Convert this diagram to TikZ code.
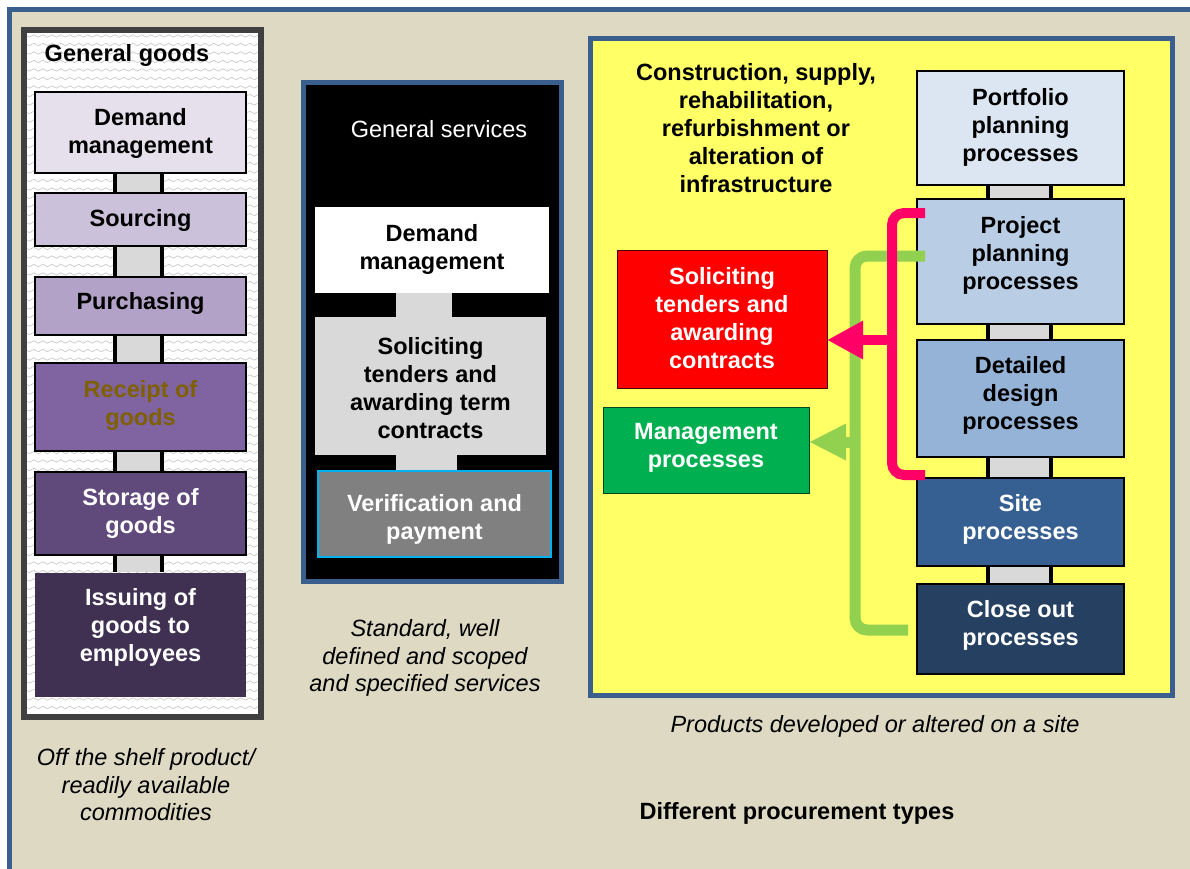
\documentclass[tikz,border=0pt]{standalone}
\usepackage{fontspec}
\setmainfont{Liberation Sans}
\usetikzlibrary{arrows.meta,decorations.pathmorphing,calc}
\definecolor{tanbg}{HTML}{DDD9C3}
\definecolor{frameblue}{HTML}{3A5F8F}
\definecolor{colgray}{HTML}{404040}
\definecolor{wavegray}{HTML}{C4C4C4}
\definecolor{bargray}{HTML}{D9D9D9}
\definecolor{pA}{HTML}{E6E0EC}
\definecolor{pB}{HTML}{CCC1DA}
\definecolor{pC}{HTML}{B3A2C7}
\definecolor{pD}{HTML}{8064A2}
\definecolor{pE}{HTML}{604A7B}
\definecolor{pF}{HTML}{403152}
\definecolor{olivetxt}{HTML}{7F6000}
\definecolor{bA}{HTML}{DCE6F2}
\definecolor{bB}{HTML}{B9CDE5}
\definecolor{bC}{HTML}{95B3D7}
\definecolor{bD}{HTML}{376092}
\definecolor{bE}{HTML}{254061}
\definecolor{yel}{HTML}{FFFF66}
\definecolor{redc}{HTML}{FF0000}
\definecolor{grnc}{HTML}{00B050}
\definecolor{pinkc}{HTML}{FF0066}
\definecolor{lgreen}{HTML}{92D050}
\definecolor{cyanc}{HTML}{00B0F0}
\definecolor{midgray}{HTML}{808080}
\begin{document}
\begin{tikzpicture}[x=1pt,y=-1pt,
  pbox/.style={draw=black, line width=1.5pt, anchor=north west, inner sep=0pt, outer sep=0pt},
  txt/.style={font=\fontsize{23.5pt}{28pt}\selectfont\bfseries, align=center, inner sep=0pt, yshift=-2pt},
  captxt/.style={font=\fontsize{23.5pt}{27.5pt}\selectfont\itshape, align=center, inner sep=0pt, yshift=-1pt},
  wave/.style={draw=wavegray, line width=0.6pt, decorate, decoration={snake, amplitude=1.2pt, segment length=9pt}}
]
\useasboundingbox (0,0) rectangle (1190,869);
\fill[white] (0,0) rectangle (1190,869);
\fill[tanbg] (9.5,9.5) rectangle (1200,880);
\draw[frameblue, line width=5pt] (9.5,9.5) rectangle (1200,880);

% ---------- left column: general goods ----------
\fill[white] (24,30) rectangle (261,717);
\begin{scope}
  \clip (27,33) rectangle (258,714);
  \foreach \yy in {36,44.5,...,714} { \draw[wave] (22,\yy) -- (265,\yy); }
\end{scope}
\draw[colgray, line width=6pt] (24,30) rectangle (261,717);
\node[txt] (gg) at (127,53) {General goods};

\node[pbox, fill=pA, minimum width=211pt, minimum height=81pt] (L1) at (35,92) {};
\node[pbox, fill=pB, minimum width=211pt, minimum height=53pt] (L2) at (35,193) {};
\node[pbox, fill=pC, minimum width=211pt, minimum height=58pt] (L3) at (35,277) {};
\node[pbox, fill=pD, minimum width=211pt, minimum height=88pt] (L4) at (35,363) {};
\node[pbox, fill=pE, minimum width=211pt, minimum height=83pt] (L5) at (35,472) {};
\node[pbox, fill=pF, draw=none, minimum width=211pt, minimum height=124pt] (L6) at (35,573) {};

\foreach \a/\b in {L1/L2,L2/L3,L3/L4,L4/L5,L5/L6} {
  \fill[black] ([xshift=-27.5pt,yshift=-0.75pt]\a.south) rectangle ([xshift=23.5pt,yshift=0.75pt]\b.north);
  \fill[bargray] ([xshift=-23.5pt,yshift=-0.75pt]\a.south) rectangle ([xshift=19.5pt,yshift=0.75pt]\b.north);
}

\node[txt] (L1t) at (140.5,131) {Demand\\management};
\node[txt] (L2t) at (140.5,218) {Sourcing};
\node[txt] (L3t) at (140.5,301) {Purchasing};
\node[txt, text=olivetxt] (L4t) at (140.5,403) {Receipt of\\goods};
\node[txt, text=white] (L5t) at (140.5,511) {Storage of\\goods};
\node[txt, text=white] (L6t) at (140.5,625) {Issuing of\\goods to\\employees};

\node[captxt] (capL) at (146,784) {Off the shelf product/\\readily available\\commodities};

% ---------- middle column: general services ----------
\draw[frameblue, fill=black, line width=5pt] (303.5,82.5) rectangle (561.5,581);
\node[font=\fontsize{23.5pt}{28pt}\selectfont, text=white, inner sep=0pt, yshift=-1pt] (gs) at (439,128) {General services};

\node[pbox, fill=white, draw=none, minimum width=234pt, minimum height=86pt] (M1) at (315,207) {};
\node[pbox, fill=bargray, draw=none, minimum width=231pt, minimum height=138pt] (M2) at (315,317) {};
\node[pbox, fill=midgray, draw=cyanc, line width=1.5pt, minimum width=233pt, minimum height=86pt] (M3) at (318,471) {};

\fill[bargray] ([xshift=-36pt]M1.south) rectangle ([xshift=21pt]M2.north);
\fill[bargray] ([xshift=-34.5pt]M2.south) rectangle ([xshift=22.5pt,yshift=0.75pt]M3.north);

\node[txt] (M1t) at (432,247) {Demand\\management};
\node[txt] (M2t) at (430.5,386) {Soliciting\\tenders and\\awarding term\\contracts};
\node[txt, text=white] (M3t) at (434.5,517) {Verification and\\payment};

\node[captxt] (capM) at (425,657) {Standard, well\\defined and scoped\\and specified services};

% ---------- right panel: infrastructure ----------
\draw[frameblue, fill=yel, line width=5pt] (590.5,38.5) rectangle (1172.5,695);
\node[txt] (title) at (756,126.5) {Construction, supply,\\rehabilitation,\\refurbishment or\\alteration of\\infrastructure};

\node[pbox, fill=bA, minimum width=207pt, minimum height=114pt] (R1) at (917,71) {};
\node[pbox, fill=bB, minimum width=207pt, minimum height=125pt] (R2) at (917,199) {};
\node[pbox, fill=bC, minimum width=207pt, minimum height=117pt] (R3) at (917,340) {};
\node[pbox, fill=bD, minimum width=207pt, minimum height=88pt] (R4) at (917,478) {};
\node[pbox, fill=bE, minimum width=207pt, minimum height=90pt] (R5) at (917,584) {};

\foreach \a/\b in {R1/R2,R2/R3,R3/R4,R4/R5} {
  \fill[black] ([xshift=-34.5pt,yshift=-0.75pt]\a.south) rectangle ([xshift=32.5pt,yshift=0.75pt]\b.north);
  \fill[bargray] ([xshift=-30.5pt,yshift=-0.75pt]\a.south) rectangle ([xshift=28.5pt,yshift=0.75pt]\b.north);
}

\node[txt] (R1t) at (1020.5,125) {Portfolio\\planning\\processes};
\node[txt] (R2t) at (1020.5,253) {Project\\planning\\processes};
\node[txt] (R3t) at (1020.5,393) {Detailed\\design\\processes};
\node[txt, text=white] (R4t) at (1020.5,517) {Site\\processes};
\node[txt, text=white] (R5t) at (1020.5,623) {Close out\\processes};

\node[pbox, fill=redc, draw=black!70!red, line width=1pt, minimum width=210pt, minimum height=138pt] (RED) at (617,250) {};
\node[pbox, fill=grnc, draw=black!60!grnc, line width=1pt, minimum width=206pt, minimum height=86pt] (GRN) at (603,407) {};
\node[txt, text=white] (REDt) at (722,316) {Soliciting\\tenders and\\awarding\\contracts};
\node[txt, text=white] (GRNt) at (706,446) {Management\\processes};

% green connector
\coordinate (gA) at ($(R2.north west)+(8,57)$);
\coordinate (gM) at (855,442);
\coordinate (gB) at ($(R5.west)+(-9,1)$);
\draw[lgreen, line width=11pt, rounded corners=12pt] (gA) -| (gM) |- (gB);
\draw[lgreen, line width=11pt, -{Triangle[length=37pt,width=34pt]}] (gM) -- (gM -| GRN.east);

% pink connector
\coordinate (pkA) at ($(R2.north west)+(8,14)$);
\coordinate (pkM) at (892,340);
\coordinate (pkB) at ($(R4.north west)+(8,-3)$);
\draw[pinkc, line width=10pt, rounded corners=12pt] (pkA) -| (pkM) |- (pkB);
\draw[pinkc, line width=10pt, -{Triangle[length=36pt,width=36pt]}] (pkM) -- (pkM -| RED.east);

\node[captxt] (capR) at (875,725) {Products developed or altered on a site};
\node[txt] (bottom) at (797,811) {Different procurement types};
\end{tikzpicture}
\end{document}
